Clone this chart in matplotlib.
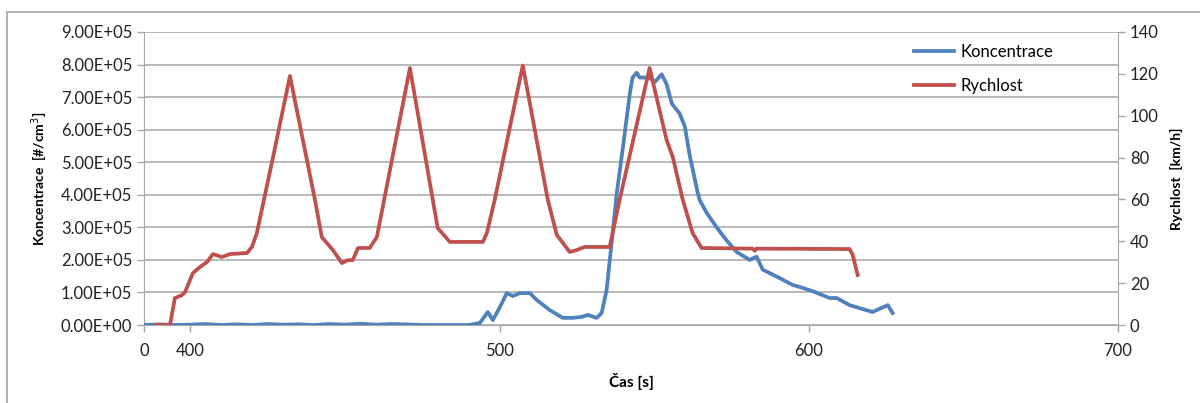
import matplotlib.pyplot as plt
from matplotlib.lines import Line2D
from matplotlib.ticker import FuncFormatter

# time [s]
rych_t = [388.9, 393.4, 395.0, 397.3, 398.3, 400.8, 403.1, 405.4, 407.3, 410.2,
          412.8, 418.3, 419.9, 421.5, 426.7, 432.2, 440.3, 442.5, 446.1, 449.0,
          450.9, 452.5, 454.2, 458.0, 460.3, 471.0, 478.4, 480.0, 483.9, 494.6,
          495.9, 498.4, 507.5, 515.6, 518.5, 522.7, 524.9, 527.5, 535.6, 538.8,
          548.5, 554.0, 556.0, 559.2, 562.4, 565.3, 581.8, 582.5, 583.1, 613.2,
          614.2, 615.8]
# speed [km/h]
rych_v = [0, 0, 12.9, 14.3, 15.8, 24.8, 27.7, 30.1, 33.9, 32.5,
          33.9, 34.4, 37.3, 44, 80, 119, 59.7, 42, 35.8, 29.6,
          31, 31, 36.8, 36.8, 42, 122.8, 59.7, 46.3, 39.7, 39.7,
          44, 59.7, 124, 59.7, 43, 34.9, 35.8, 37.3, 37.3, 59.7,
          122.8, 88.4, 80.3, 60, 44, 36.8, 36.5, 35.5, 36.5, 36.3,
          33.4, 23.9]

konc_t = [385, 390, 395, 400, 405, 410, 415, 420, 425, 430, 435, 440, 445, 450,
          455, 460, 465, 470, 475, 480, 485, 490, 493.6, 496.2, 497.8, 500.1,
          502.3, 504.3, 506.5, 509.8, 512.0, 516.2, 520.4, 523.7, 526.6, 528.5,
          531.4, 533.0, 534.6, 536.3, 537.9, 539.8, 542.1, 543.0, 544.3, 545.3,
          548.5, 550.2, 552.4, 554.0, 555.7, 558.2, 559.9, 561.5, 564.1, 564.7,
          567.0, 570.2, 573.4, 576.7, 580.9, 583.1, 585.1, 590.6, 594.8, 597.0,
          601.2, 606.7, 609.0, 613.2, 620.6, 625.5, 627.1]
# particle concentration [#/cm3]
konc_v = [0, 2e3, 0, 1e3, 3e3, 0, 2e3, 0, 3e3, 1e3, 2e3, 0, 3e3, 1e3,
          4e3, 1e3, 3e3, 2e3, 0, 0, 0, 0, 6e3, 4e4, 1.5e4, 5.5e4,
          9.8e4, 8.9e4, 9.8e4, 9.8e4, 7.7e4, 4.6e4, 2.2e4, 2.2e4, 2.5e4, 3.1e4,
          2.2e4, 3.7e4, 1.07e5, 2.6e5, 4.05e5, 5.4e5, 7.1e5, 7.6e5, 7.75e5, 7.6e5,
          7.6e5, 7.46e5, 7.7e5, 7.4e5, 6.8e5, 6.5e5, 6.1e5, 5.2e5, 4.05e5, 3.84e5,
          3.44e5, 3.0e5, 2.6e5, 2.24e5, 2.0e5, 2.1e5, 1.7e5, 1.44e5, 1.23e5, 1.17e5,
          1.04e5, 8.3e4, 8.3e4, 6.1e4, 4.0e4, 6.1e4, 3.7e4]

x_ticks = [385, 400, 500, 600, 700]
x_labels = ['0', '400', '500', '600', '700']

plt.rcParams['font.family'] = ['Lato', 'DejaVu Sans']

blue = '#4F81BD'
red = '#C0504D'
grey = '#A6A6A6'

fig = plt.figure(figsize=(12, 4.03), dpi=100)
ax = fig.add_axes([0.12, 0.1935, 0.8117, 0.7271])
ax2 = ax.twinx()

ax.plot(konc_t, konc_v, color=blue, lw=2.7, solid_joinstyle='round', zorder=3)
ax2.plot(rych_t, rych_v, color=red, lw=2.7, solid_joinstyle='round', zorder=3)

ax.set_xlim(385, 700)
ax.set_ylim(0, 9e5)
ax.set_yticks([i * 1e5 for i in range(10)])
ax.yaxis.set_major_formatter(FuncFormatter(lambda v, p: '%.2fE+%02d' % (v / 1e5, 5) if v else '0.00E+00'))
ax2.set_ylim(0, 140)
ax2.set_yticks(range(0, 141, 20))
ax.set_xticks(x_ticks)
ax.set_xticklabels(x_labels)

ax.grid(axis='y', color=grey, lw=1.1)
ax.set_axisbelow(True)
for a in (ax, ax2):
    for s in a.spines.values():
        s.set_visible(False)
    a.tick_params(colors=grey, labelcolor='#222222', labelsize=12, length=5, width=1)
ax.spines['left'].set_visible(True)
ax.spines['left'].set_color(grey)
ax.spines['bottom'].set_visible(True)
ax.spines['bottom'].set_color(grey)
ax2.spines['right'].set_visible(True)
ax2.spines['right'].set_color(grey)
ax.tick_params(axis='x', pad=8)

ax.set_ylabel('Koncentrace  [#/cm$^3$]', fontsize=10, fontweight='bold', labelpad=8)
ax2.set_ylabel('Rychlost  [km/h]', fontsize=10, fontweight='bold', labelpad=8)
ax.set_xlabel('Čas [s]', fontsize=11, fontweight='bold', labelpad=10)

handles = [Line2D([], [], color=blue, lw=2.7), Line2D([], [], color=red, lw=2.7)]
ax.legend(handles, ['Koncentrace', 'Rychlost'], loc='upper left',
          bbox_to_anchor=(0.775, 1.01), frameon=False, fontsize=12,
          handlelength=2.4, labelspacing=1.05, handletextpad=0.4)

# outer chart frame (top and left edges)
fig.add_artist(Line2D([7 / 1200, 1], [1 - 12 / 403, 1 - 12 / 403], color=grey, lw=1.2))
fig.add_artist(Line2D([7 / 1200, 7 / 1200], [0, 1 - 12 / 403], color=grey, lw=1.2))

fig.savefig('out.png', dpi=100)
